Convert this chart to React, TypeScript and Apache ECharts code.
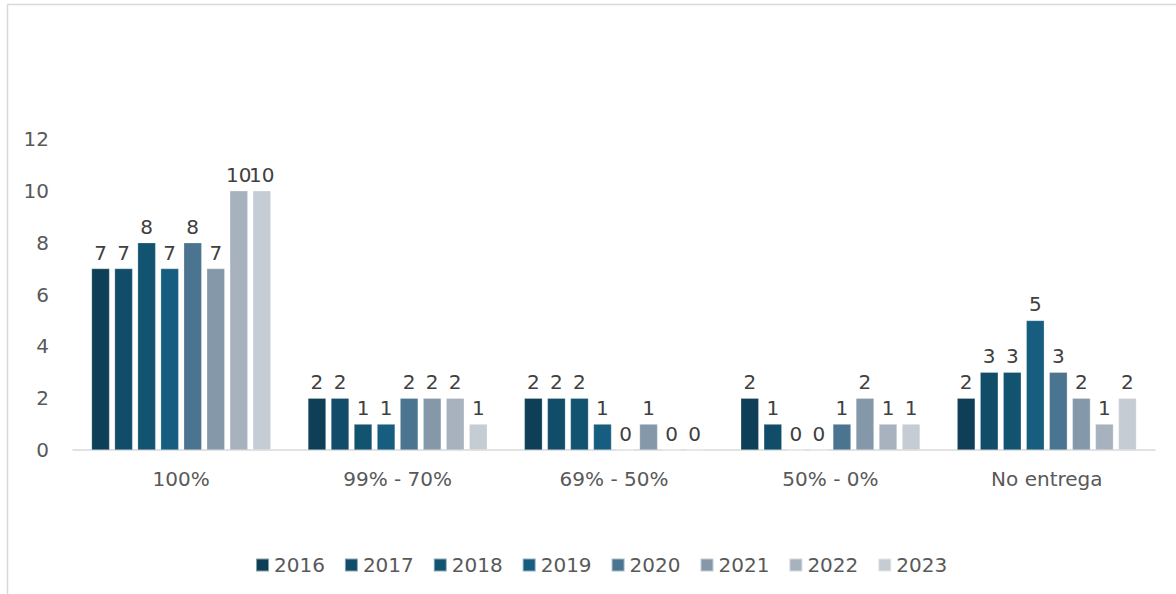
import React, { useEffect, useRef } from "react";
import * as echarts from "echarts";

const categories = ["100%", "99% - 70%", "69% - 50%", "50% - 0%", "No entrega"];
const years = ["2016", "2017", "2018", "2019", "2020", "2021", "2022", "2023"];
const v2016 = [7, 2, 2, 2, 2];
const v2017 = [7, 2, 2, 1, 3];
const v2018 = [8, 1, 2, 0, 3];
const v2019 = [7, 1, 1, 0, 5];
const v2020 = [8, 2, 0, 1, 3];
const v2021 = [7, 2, 1, 2, 2];
const v2022 = [10, 2, 0, 1, 1];
const v2023 = [10, 1, 0, 1, 2];
const seriesValues = [v2016, v2017, v2018, v2019, v2020, v2021, v2022, v2023];
const colors = ["#0e3f57", "#114c69", "#125370", "#165d80", "#4b7490", "#8598a9", "#a7b2be", "#c5ccd4"];

const FONT = "'DejaVu Sans', sans-serif";

export default function App() {
  const ref = useRef<HTMLDivElement>(null);
  useEffect(() => {
    const chart = echarts.init(ref.current!, null, { renderer: "svg" });
    chart.setOption({
      animation: false,
      textStyle: { fontFamily: FONT },
      graphic: [
        {
          type: "rect",
          shape: { x: 7.5, y: 4.5, width: 1200, height: 620 },
          style: { fill: "none", stroke: "#d9d9d9", lineWidth: 1.5 },
          silent: true,
        },
      ],
      grid: { left: 73, right: 21, top: 139, bottom: 144, containLabel: false },
      legend: {
        bottom: 14,
        left: 250,
        padding: 5,
        itemWidth: 13,
        itemHeight: 13,
        itemGap: 19,
        icon: "rect",
        textStyle: { color: "#595959", fontSize: 20, fontFamily: FONT },
        data: years,
      },
      xAxis: {
        type: "category",
        data: categories,
        axisLine: { lineStyle: { color: "#d9d9d9", width: 1.5 } },
        axisTick: { show: false },
        axisLabel: { color: "#595959", fontSize: 20, margin: 19, fontFamily: FONT },
      },
      yAxis: {
        type: "value",
        min: 0,
        max: 12,
        interval: 2,
        splitLine: { show: false },
        axisLine: { show: false },
        axisTick: { show: false },
        axisLabel: { color: "#595959", fontSize: 20, margin: 24, fontFamily: FONT },
      },
      series: years.map((y, i) => ({
        name: y,
        type: "bar",
        data: seriesValues[i],
        barWidth: 18,
        barGap: "28%",
        itemStyle: { color: colors[i], borderColor: "rgba(255,255,255,0.5)", borderWidth: 0.5 },
        label: {
          show: true,
          position: "top",
          distance: 6,
          color: "#404040",
          fontSize: 20,
          fontFamily: FONT,
        },
      })),
    });
    return () => chart.dispose();
  }, []);
  return (
    <div
      ref={ref}
      style={{ position: "fixed", left: 0, top: 0, width: 1176, height: 594, background: "#fff" }}
    />
  );
}
